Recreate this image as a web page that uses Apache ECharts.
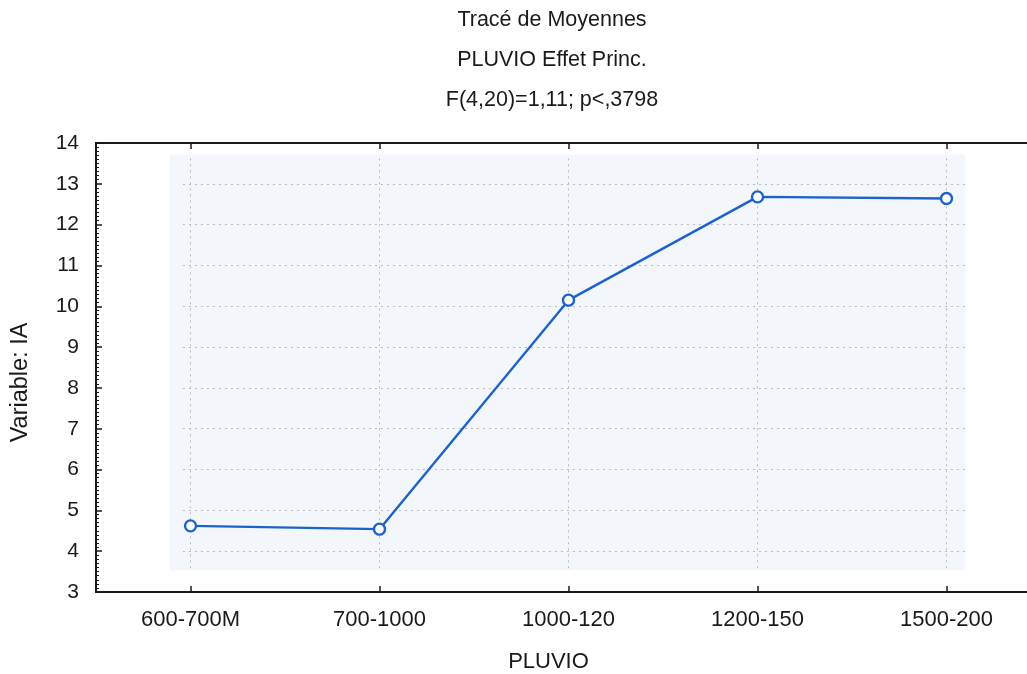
<!DOCTYPE html>
<html>
<head>
<meta charset="utf-8">
<script src="https://cdn.jsdelivr.net/npm/echarts@6/dist/echarts.min.js"></script>
<style>
  html, body { margin: 0; padding: 0; background: #ffffff; }
  #chart { width: 1027px; height: 674px; }
</style>
</head>
<body>
<div id="chart"></div>
<script>
// Mean plot of IA by rainfall class (PLUVIO)
const categories = ['600-700M', '700-1000', '1000-120', '1200-150', '1500-200'];
const meanIA = [4.62, 4.54, 10.15, 12.68, 12.64];
const yTicks = [4, 5, 6, 7, 8, 9, 10, 11, 12, 13];
const titleLines = ['Tracé de Moyennes', 'PLUVIO Effet Princ.', 'F(4,20)=1,11; p<,3798'];

const FONT = '"Liberation Sans", Arial, sans-serif';
const INK = '#1a1a1a';
const BLUE = '#1d62cc';

// shaded panel behind the means, in category-index / value units
const panel = { x0: -0.11, x1: 4.1, y0: 3.53, y1: 13.72 };

// the plot frame runs past the right edge of the page
const gridBox = { left: 96, top: 143, width: 945, height: 449, outerBoundsMode: 'none', containLabel: false };

const hLines = yTicks.map(v => [
  { coord: [panel.x0 + 0.07, v] },
  { coord: [panel.x1, v] }
]);
const vLines = categories.map((c, i) => [
  { coord: [i, panel.y0 + 0.05] },
  { coord: [i, panel.y1 - 0.05] }
]);

const chart = echarts.init(document.getElementById('chart'), null, { renderer: 'canvas' });

chart.setOption({
  backgroundColor: '#ffffff',
  animation: false,
  textStyle: { fontFamily: FONT },
  title: {
    text: titleLines.join('\n'),
    left: 547,
    top: -5,
    textAlign: 'center',
    textStyle: { fontFamily: FONT, fontSize: 21.5, fontWeight: 'normal', color: INK, lineHeight: 40 }
  },
  grid: [
    Object.assign({ show: true, borderColor: INK, borderWidth: 2, backgroundColor: 'transparent' }, gridBox),
    Object.assign({ show: false }, gridBox)
  ],
  xAxis: [
    {
      type: 'category', gridIndex: 0, data: categories, position: 'bottom',
      boundaryGap: true,
      name: 'PLUVIO', nameLocation: 'middle', nameGap: 59,
      nameTextStyle: { fontFamily: FONT, fontSize: 22, color: INK, padding: [0, 40, 0, 0] },
      axisLine: { show: true, lineStyle: { color: INK, width: 2 } },
      axisTick: { show: true, inside: true, alignWithLabel: true, length: 6, lineStyle: { color: INK, width: 1.5 } },
      axisLabel: { fontFamily: FONT, fontSize: 22, color: INK, margin: 17 },
      splitLine: { show: false }
    },
    {
      type: 'category', gridIndex: 0, data: categories, position: 'top',
      boundaryGap: true,
      axisLine: { show: true, lineStyle: { color: INK, width: 2 } },
      axisTick: { show: true, inside: true, alignWithLabel: true, length: 6, lineStyle: { color: INK, width: 1.5 } },
      axisLabel: { show: false },
      splitLine: { show: false }
    },
    {
      type: 'value', gridIndex: 1, min: -0.5, max: 4.5,
      show: false, splitLine: { show: false }
    }
  ],
  yAxis: [
    {
      type: 'value', gridIndex: 0, min: 3, max: 14, interval: 1,
      name: 'Variable: IA', nameLocation: 'middle', nameGap: 63, nameRotate: 90,
      nameTextStyle: { fontFamily: FONT, fontSize: 23.5, color: INK, padding: [0, 30, 0, 0] },
      axisLine: { show: true, lineStyle: { color: INK, width: 2 } },
      axisTick: { show: true, inside: true, length: 6, lineStyle: { color: INK, width: 1.5 } },
      minorTick: { show: true, splitNumber: 10, length: 3, lineStyle: { color: INK, width: 1 } },
      axisLabel: { fontFamily: FONT, fontSize: 21, color: INK, margin: 17 },
      splitLine: { show: false }
    },
    {
      type: 'value', gridIndex: 1, min: 3, max: 14,
      show: false, splitLine: { show: false }
    }
  ],
  series: [
    {
      // light panel and dotted reference grid
      type: 'line', xAxisIndex: 2, yAxisIndex: 1, data: [],
      silent: true,
      markArea: {
        silent: true,
        itemStyle: { color: '#f3f6fa' },
        data: [[{ coord: [panel.x0, panel.y0] }, { coord: [panel.x1, panel.y1] }]]
      },
      markLine: {
        silent: true, symbol: 'none', label: { show: false },
        lineStyle: { color: '#b4bcc6', width: 1, type: [2, 4] },
        data: hLines.concat(vLines)
      }
    },
    {
      name: 'IA', type: 'line', xAxisIndex: 0, yAxisIndex: 0,
      data: meanIA,
      symbol: 'circle', symbolSize: 11,
      lineStyle: { color: BLUE, width: 2.4 },
      itemStyle: { color: '#ffffff', borderColor: BLUE, borderWidth: 2.4 },
      z: 5
    }
  ]
});
</script>
</body>
</html>
